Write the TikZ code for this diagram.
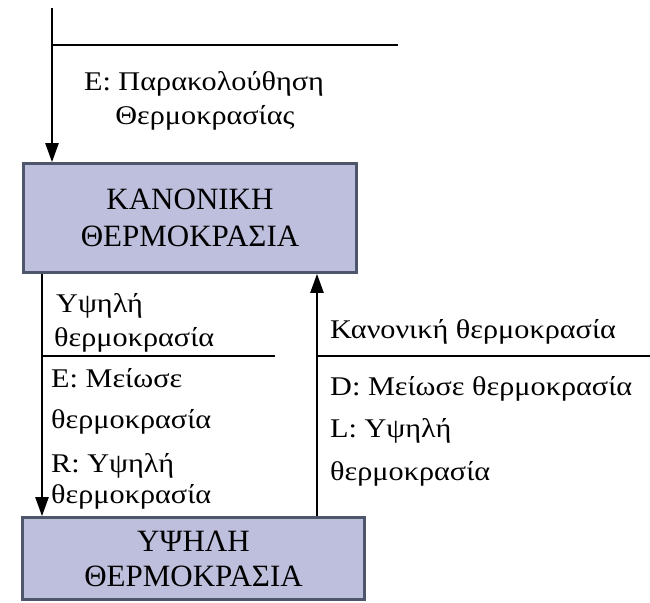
\documentclass[tikz,border=0pt]{standalone}
\usepackage{fontspec}
\setmainfont{Liberation Serif}
\newfontfamily\labelfont[FakeStretch=1.12]{Liberation Serif}
\usetikzlibrary{arrows.meta}
\definecolor{statefill}{HTML}{BEBFDD}
\definecolor{stateedge}{HTML}{4E566C}
\begin{document}
\begin{tikzpicture}[x=1pt,y=-1pt,
  state/.style={draw=stateedge,line width=2.6pt,fill=statefill,
    align=center,inner sep=0pt},
  flow/.style={line width=2.2pt,-{Triangle[length=19pt,width=13pt]}},
  bar/.style={line width=2.2pt},
  lbl/.style={anchor=base west,inner sep=0pt,
    font=\labelfont\fontsize{27}{33}\selectfont}]
\useasboundingbox (0,0) rectangle (650,602);

% states
\node[state,minimum width=333pt,minimum height=109pt,
  font=\fontsize{31}{37}\selectfont] (normal) at (190,218)
  {ΚΑΝΟΝΙΚΗ\\ΘΕΡΜΟΚΡΑΣΙΑ};
\node[state,minimum width=342pt,minimum height=82pt,
  font=\fontsize{31}{35}\selectfont] (high) at (193.5,558.5)
  {ΥΨΗΛΗ\\ΘΕΡΜΟΚΡΑΣΙΑ};

% initial transition
\coordinate (start) at (52,8);
\coordinate (startbar) at (52,45);
\coordinate (startbarend) at (398,45);
\draw[flow] (start) -- (start |- normal.north);
\draw[bar] (startbar) -- (startbarend);
\node[lbl,anchor=base] (initlbl) at (204,90) {E: Παρακολούθηση};
\node[lbl,anchor=base] (initlbl2) at (205,124) {Θερμοκρασίας};

% normal -> high
\coordinate (down) at (42,0);
\coordinate (downbar) at (42,356);
\coordinate (downbarend) at (275,356);
\draw[flow] (down |- normal.south) -- (down |- high.north);
\draw[bar] (downbar) -- (downbarend);
\node[lbl] (uplbl1) at (56,312) {Υψηλή};
\node[lbl] (uplbl2) at (54,346) {θερμοκρασία};
\node[lbl] (dnlbl1) at (51,387) {E: Μείωσε};
\node[lbl] (dnlbl2) at (51,428) {θερμοκρασία};
\node[lbl] (dnlbl3) at (51,472) {R: Υψηλή};
\node[lbl] (dnlbl4) at (51,503) {θερμοκρασία};

% high -> normal
\coordinate (up) at (317,0);
\coordinate (upbar) at (317,356);
\coordinate (upbarend) at (650,356);
\draw[flow] (up |- high.north) -- (up |- normal.south);
\draw[bar] (upbar) -- (upbarend);
\node[lbl] (rlbl1) at (330,338) {Κανονική θερμοκρασία};
\node[lbl] (rlbl2) at (330,395) {D: Μείωσε θερμοκρασία};
\node[lbl] (rlbl3) at (330,437) {L: Υψηλή};
\node[lbl] (rlbl4) at (330,480) {θερμοκρασία};
\end{tikzpicture}
\end{document}
